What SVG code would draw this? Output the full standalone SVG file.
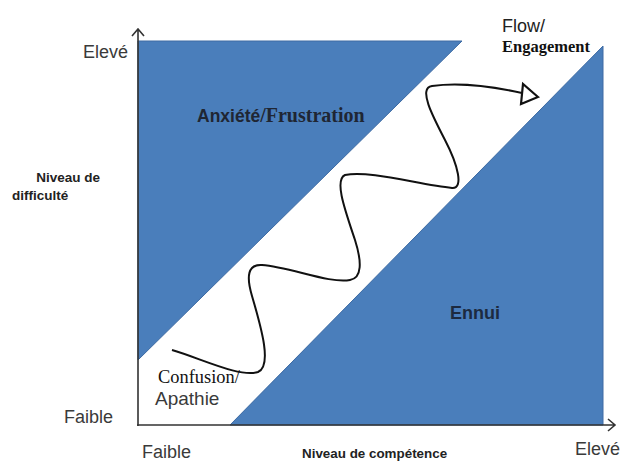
<svg xmlns="http://www.w3.org/2000/svg" width="623" height="462" viewBox="0 0 623 462">
<defs>
<style>
.zone{fill:#4a7ebb;stroke:#3e6ba3;stroke-width:1}
.axis{fill:none;stroke:#333;stroke-width:1.6}
.sans{font-family:"Liberation Sans",Arial,sans-serif}
.serif{font-family:"Liberation Serif","Times New Roman",serif}
.gray{fill:#3a3a3a}
.bold{font-weight:bold}
</style>
</defs>
<rect width="623" height="462" fill="#fff"/>
<g id="anxiete-zone">
<polygon class="zone" points="138,41 462,41 138,360"/>
<text x="197" y="122" class="bold" fill="#1f2633"><tspan class="sans" font-size="17.5">Anxiété</tspan><tspan class="serif" font-size="20">/Frustration</tspan></text>
</g>
<g id="ennui-zone">
<polygon class="zone" points="603,46 603,425 230,425"/>
<text x="450" y="319" class="sans bold" font-size="18" fill="#1c2a40">Ennui</text>
</g>
<g id="axes">
<path class="axis" d="M138,426 V29 M132,36 L138,29 L144,36"/>
<path class="axis" d="M137,425 H615 M608,419 L615,425 L608,431"/>
</g>
<g id="y-labels">
<text x="128" y="58" class="sans gray" font-size="18" text-anchor="end">Elevé</text>
<text x="100" y="182" class="sans bold" font-size="13.5" fill="#222" text-anchor="end">Niveau de</text>
<text x="12" y="200" class="sans bold" font-size="13.5" fill="#222">difficulté</text>
<text x="113" y="423" class="sans gray" font-size="18" text-anchor="end">Faible</text>
</g>
<g id="x-labels">
<text x="142" y="458" class="sans gray" font-size="18">Faible</text>
<text x="302" y="458" class="sans bold" font-size="13.4" fill="#222">Niveau de compétence</text>
<text x="620" y="455" class="sans gray" font-size="18" text-anchor="end">Elevé</text>
</g>
<g id="flow-label">
<text x="502" y="32" class="sans" font-size="18" fill="#222">Flow/</text>
<text x="502" y="52" class="serif bold" font-size="16.5" fill="#111">Engagement</text>
</g>
<g id="confusion-label">
<text x="158" y="383" class="serif" font-size="18.4" fill="#111">Confusion/</text>
<text x="155" y="405" class="sans gray" font-size="19">Apathie</text>
</g>
<g id="connectors">
<path d="M172,350 C200,358 240,378 258,372 C272,366 262,330 252,296 C246,276 248,264 262,265 C290,267 330,284 350,280 C362,278 362,262 355,240 C345,210 334,180 345,175 C370,170 420,185 452,188 C464,189 458,165 445,140 C432,115 418,88 432,86 C460,82 495,87 522,93" fill="none" stroke="#111" stroke-width="2"/>
<polygon points="538,97 523,84 521,104" fill="#fff" stroke="#111" stroke-width="2.2" stroke-linejoin="miter"/>
</g>
</svg>
